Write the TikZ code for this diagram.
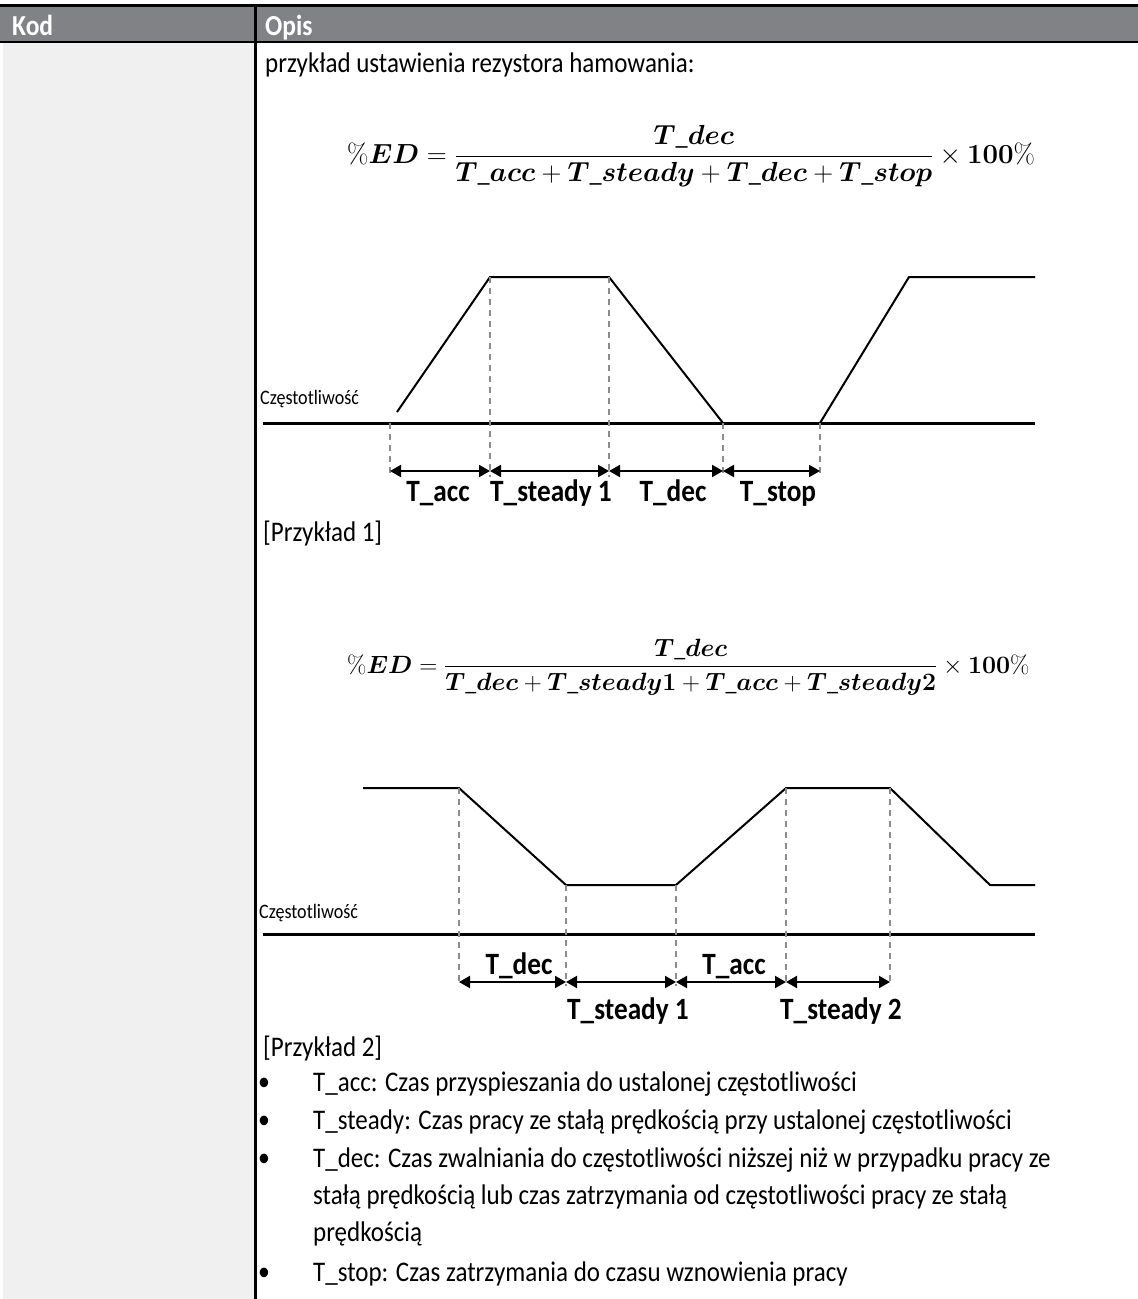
\RequirePackage{fix-cm}
\documentclass[tikz,border=0pt]{standalone}
\usepackage{amsmath}
\usepackage[no-math]{fontspec}
\setmainfont{Carlito}[FakeStretch=0.88]
\usetikzlibrary{arrows.meta}
\definecolor{szary}{HTML}{808285}
\definecolor{kolumna}{HTML}{F0F0F0}
\definecolor{kreska}{HTML}{8C8C8C}

\begin{document}
\begin{tikzpicture}[
  x=1pt, y=-1pt,
  kolnag/.style={anchor=base west, inner sep=0pt, text=white, font=\fontsize{29}{32}\selectfont\bfseries},
  tekst/.style={anchor=base west, inner sep=0pt, font=\fontsize{28.4}{37}\selectfont},
  kropka/.style={anchor=base west, inner sep=0pt, font=\fontsize{27}{37}\selectfont},
  wzor/.style={anchor=base west, inner sep=0pt, font=\fontsize{27.6}{33}\selectfont},
  etykieta/.style={anchor=base, inner sep=0pt, font=\fontsize{31}{36}\selectfont\bfseries},
  czest/.style={anchor=base west, inner sep=0pt, font=\fontsize{20.5}{24}\selectfont},
  przebieg/.style={line width=2pt, line join=miter},
  os/.style={line width=3pt},
  pomocnicza/.style={draw=kreska, line width=1.3pt, dash pattern=on 6pt off 5pt},
  odcinek/.style={{Triangle[length=11pt,width=12pt]}-{Triangle[length=11pt,width=12pt]}, line width=2pt},
]
\useasboundingbox (0,0) rectangle (1138,1299);

% Tabela
\fill[kolumna] (3,43) rectangle (255,1299);
\fill[szary] (0,5) rectangle (1138,42);
\draw[line width=3.3pt] (0,5.7) -- (1138,5.7);
\draw[line width=2.7pt] (0,42) -- (1138,42);
\draw[line width=2.7pt] (255.5,4) -- (255.5,1299);
\node[kolnag] (kod) at (12,35) {Kod};
\node[kolnag] (opis) at (265,35) {Opis};

\node[tekst] (wstep) at (265,72) {przykład ustawienia rezystora hamowania:};

% Wzor 1
\node[wzor] (wzor1) at (347,163) {$\displaystyle \%\boldsymbol{ED}=\frac{\boldsymbol{T\_dec}}{\boldsymbol{T\_acc}+\boldsymbol{T\_steady}+\boldsymbol{T\_dec}+\boldsymbol{T\_stop}}\times\boldsymbol{100}\%$};

% Przebieg 1
\coordinate (a0) at (397,412);
\coordinate (a1) at (490,277);
\coordinate (a2) at (609,277);
\coordinate (a3) at (723,423);
\coordinate (a4) at (820,423);
\coordinate (a5) at (909,277);
\coordinate (a6) at (1035,277);
\coordinate (os1l) at (263,423);
\coordinate (os1p) at (1035,423);
\draw[os] (os1l) -- (os1p);
\draw[przebieg] (a0) -- (a1) -- (a2) -- (a3) -- (a4) -- (a5) -- (a6);
\node[czest] (czest1) at (260,404) {Częstotliwość};

\foreach \n/\x/\y in {1/390/423, 2/490/277, 3/609/277, 4/723/423, 5/820/423} {
  \coordinate (p\n) at (\x,471);
  \draw[pomocnicza] (\x,\y) -- (\x,477);
}
\draw[odcinek] (p1) -- (p2);
\draw[odcinek] (p2) -- (p3);
\draw[odcinek] (p3) -- (p4);
\draw[odcinek] (p4) -- (p5);
\node[etykieta] (tacc1) at (438,501) {T\_acc};
\node[etykieta] (tst1) at (551,501) {T\_steady 1};
\node[etykieta] (tdec1) at (673,501) {T\_dec};
\node[etykieta] (tstop1) at (778,501) {T\_stop};

\node[tekst] (prz1) at (263,541) {[Przykład 1]};

% Wzor 2
\node[wzor, font=\fontsize{25}{30}\selectfont] (wzor2) at (347,673) {$\displaystyle \%\boldsymbol{ED}=\frac{\boldsymbol{T\_dec}}{\boldsymbol{T\_dec}+\boldsymbol{T\_steady1}+\boldsymbol{T\_acc}+\boldsymbol{T\_steady2}}\times\boldsymbol{100}\%$};

% Przebieg 2
\coordinate (b0) at (363,788);
\coordinate (b1) at (459,788);
\coordinate (b2) at (566,885);
\coordinate (b3) at (676,885);
\coordinate (b4) at (786,788);
\coordinate (b5) at (890,788);
\coordinate (b6) at (990,885);
\coordinate (b7) at (1035,885);
\coordinate (os2l) at (263,934);
\coordinate (os2p) at (1035,934);
\draw[os] (os2l) -- (os2p);
\draw[przebieg] (b0) -- (b1) -- (b2) -- (b3) -- (b4) -- (b5) -- (b6) -- (b7);
\node[czest] (czest2) at (259,918) {Częstotliwość};

\foreach \n/\x/\y in {1/459/788, 2/566/885, 3/676/885, 4/786/788, 5/890/788} {
  \coordinate (q\n) at (\x,982);
  \draw[pomocnicza] (\x,\y) -- (\x,986);
}
\draw[odcinek] (q1) -- (q2);
\draw[odcinek] (q2) -- (q3);
\draw[odcinek] (q3) -- (q4);
\draw[odcinek] (q4) -- (q5);
\node[etykieta] (tdec2) at (519,974) {T\_dec};
\node[etykieta] (tacc2) at (734,974) {T\_acc};
\node[etykieta] (tst2a) at (628,1019) {T\_steady 1};
\node[etykieta] (tst2b) at (841,1019) {T\_steady 2};

\node[tekst] (prz2) at (263,1056) {[Przykład 2]};

% Objasnienia
\foreach \y in {1090,1128,1166,1280} \node[kropka] at (258,\y) {•};
\node[tekst] (opacc) at (313,1091) {T\_acc: Czas przyspieszania do ustalonej częstotliwości};
\node[tekst] (opst) at (313,1129) {T\_steady: Czas pracy ze stałą prędkością przy ustalonej częstotliwości};
\node[tekst] (opdec) at (313,1167) {T\_dec: Czas zwalniania do częstotliwości niższej niż w przypadku pracy ze};
\node[tekst] (opdec2) at (313,1204) {stałą prędkością lub czas zatrzymania od częstotliwości pracy ze stałą};
\node[tekst] (opdec3) at (313,1241) {prędkością};
\node[tekst] (opstop) at (313,1281) {T\_stop: Czas zatrzymania do czasu wznowienia pracy};

\end{tikzpicture}
\end{document}
